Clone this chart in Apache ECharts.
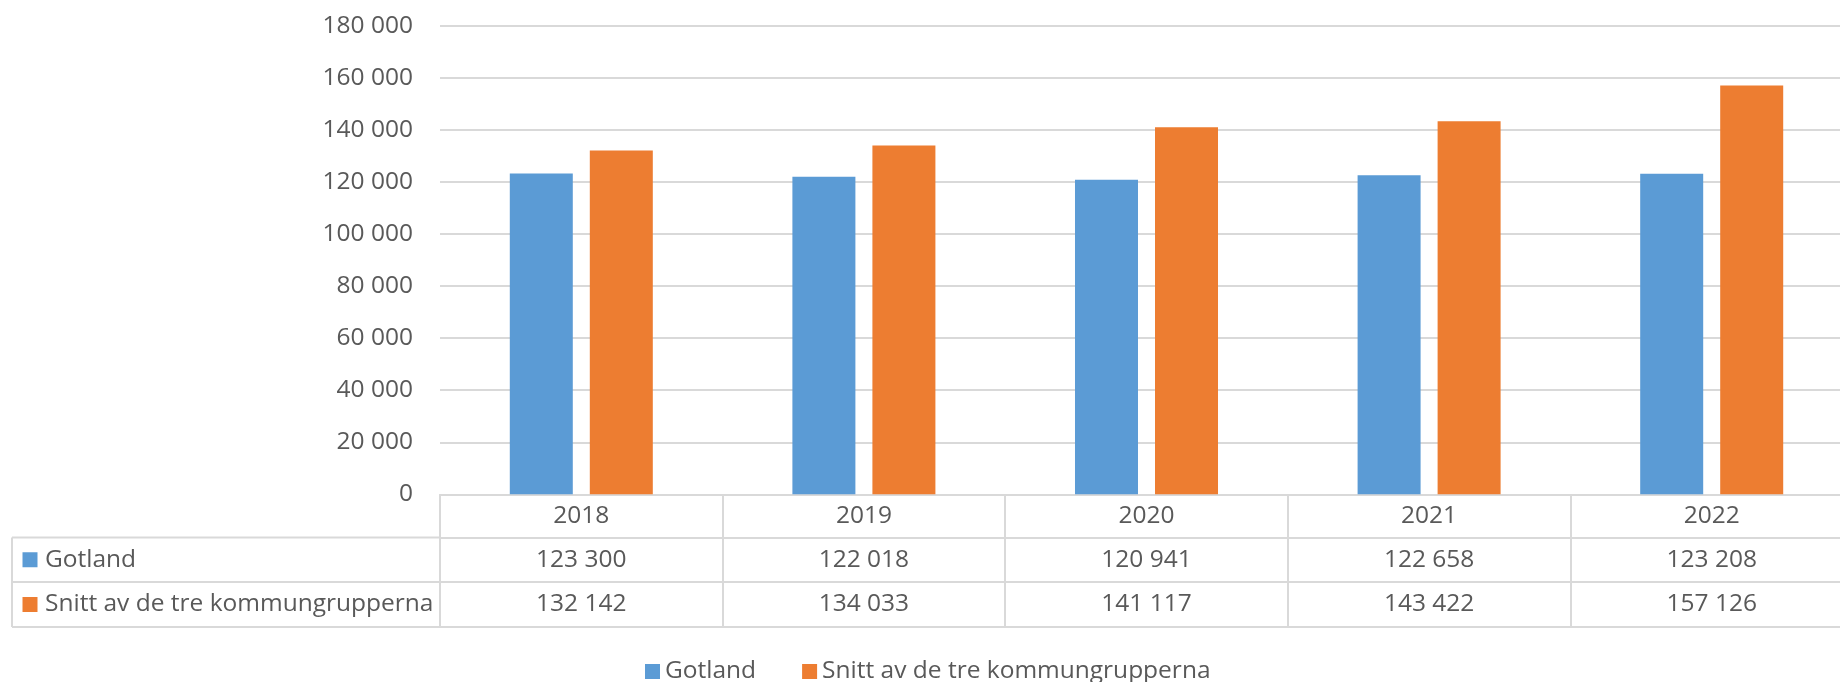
<!DOCTYPE html>
<html>
<head>
<meta charset="utf-8">
<script src="https://cdn.jsdelivr.net/npm/echarts@6/dist/echarts.min.js"></script>
<style>html,body{margin:0;padding:0;background:#fff;overflow:hidden}#c{width:1853px;height:682px}</style>
</head>
<body>
<div id="c"></div>
<script>
const years = ['2018', '2019', '2020', '2021', '2022'];
const seriesNames = ['Gotland', 'Snitt av de tre kommungrupperna'];
const gotland = [123300, 122018, 120941, 122658, 123208];
const snitt = [132142, 134033, 141117, 143422, 157126];
const yMin = 0, yMax = 180000, yStep = 20000;

const colors = ['#5b9bd5', '#ed7d31'];
const font = 'Open Sans';
const fs = 24.5;
const txt = '#595959';
const lineC = '#d9d9d9';

// layout (the reference chart is cropped on the right: plot runs past the 1840px window)
const H = 682;
const gLeft = 440, gTop = 26, axisY = 494.3;
const rowTop = [494.3, 537.5, 582, 627];
const tableLeft = 12;

function fmt(v) { return String(v).replace(/\B(?=(\d{3})+(?!\d))/g, ' '); }

const chart = echarts.init(document.getElementById('c'), null, { renderer: 'canvas' });

const valueRows = [gotland, snitt];

const xAxes = [{
  type: 'category', data: years, gridIndex: 0, position: 'bottom',
  axisLine: { show: true, lineStyle: { color: lineC, width: 2 } },
  axisTick: { show: true, alignWithLabel: false, length: rowTop[3] - rowTop[0], lineStyle: { color: lineC, width: 2 } },
  axisLabel: { show: true, interval: 0, margin: (rowTop[1] - rowTop[0]) / 2, verticalAlign: 'middle',
    fontFamily: font, fontSize: fs, color: txt },
  splitLine: { show: false }
}];
valueRows.forEach((arr, r) => {
  xAxes.push({
    type: 'category', data: years, gridIndex: 0, position: 'bottom',
    offset: rowTop[r + 1] - rowTop[0],
    axisLine: { show: true, lineStyle: { color: lineC, width: 2 } },
    axisTick: { show: false },
    axisLabel: { show: true, interval: 0, margin: (rowTop[r + 2] - rowTop[r + 1]) / 2, verticalAlign: 'middle',
      fontFamily: font, fontSize: fs, color: txt,
      formatter: (v, i) => fmt(arr[i]) },
    splitLine: { show: false }
  });
});
xAxes.push({
  type: 'category', data: years, gridIndex: 0, position: 'bottom',
  offset: rowTop[3] - rowTop[0],
  axisLine: { show: true, lineStyle: { color: lineC, width: 2 } },
  axisTick: { show: false }, axisLabel: { show: false }, splitLine: { show: false }
});

const graphic = [];
[1, 2, 3].forEach(k => {
  graphic.push({ type: 'line', silent: true,
    shape: { x1: tableLeft, y1: rowTop[k], x2: gLeft, y2: rowTop[k] },
    style: { stroke: lineC, lineWidth: 2 } });
});
graphic.push({ type: 'line', silent: true,
  shape: { x1: tableLeft, y1: rowTop[1], x2: tableLeft, y2: rowTop[3] },
  style: { stroke: lineC, lineWidth: 2 } });
seriesNames.forEach((name, r) => {
  const cy = (rowTop[r + 1] + rowTop[r + 2]) / 2;
  graphic.push({ type: 'rect', silent: true,
    shape: { x: 22.5, y: cy - 7.5, width: 15, height: 15 },
    style: { fill: colors[r] } });
  graphic.push({ type: 'text', silent: true, x: 45, y: cy,
    style: { text: name, fontFamily: font, fontSize: fs, fill: txt, verticalAlign: 'middle', align: 'left' } });
});

chart.setOption({
  animation: false,
  color: colors,
  grid: { left: gLeft, top: gTop, right: 0, bottom: H - axisY, containLabel: false },
  legend: {
    data: seriesNames, left: 645, top: 659, padding: 0, itemWidth: 15, itemHeight: 15, itemGap: 46,
    icon: 'rect',
    textStyle: { fontFamily: font, fontSize: fs, color: txt, lineHeight: 24 }
  },
  xAxis: xAxes,
  yAxis: {
    type: 'value', min: yMin, max: yMax, interval: yStep,
    axisLine: { show: false }, axisTick: { show: false },
    axisLabel: { margin: 27, fontFamily: font, fontSize: fs, color: txt, formatter: v => fmt(v) },
    splitLine: { show: true, lineStyle: { color: lineC, width: 2 } }
  },
  series: [
    { name: seriesNames[0], type: 'bar', data: gotland, barWidth: 63, barGap: '27%' },
    { name: seriesNames[1], type: 'bar', data: snitt, barWidth: 63, barGap: '27%' }
  ],
  graphic: graphic
});
</script>
</body>
</html>
